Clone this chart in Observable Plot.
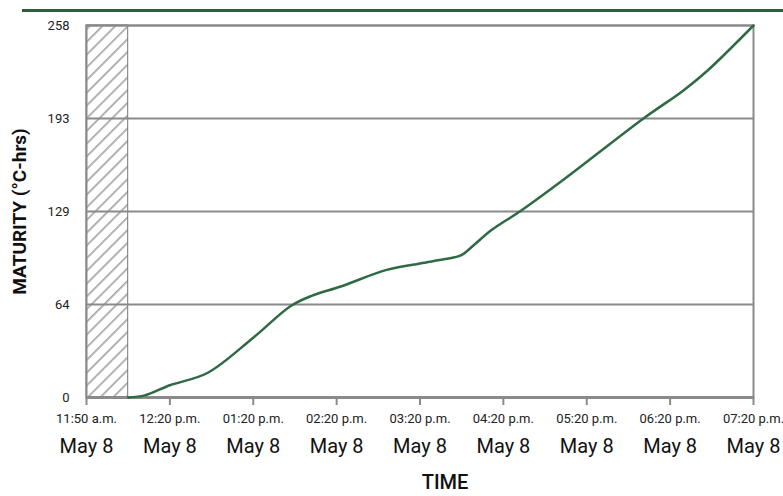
<!DOCTYPE html>
<html>
<head>
<meta charset="utf-8">
<script src="https://cdn.jsdelivr.net/npm/d3@7"></script>
<script src="https://cdn.jsdelivr.net/npm/@observablehq/plot@0.6"></script>
<style>
  html, body { margin: 0; padding: 0; background: #fff; }
  #wrap { position: relative; width: 783px; height: 496px; font-family: Roboto, sans-serif; }
  #topline { position: absolute; left: 22px; top: 9px; width: 761px; height: 3px; background: #2d5e3b; }
  #chart { position: absolute; left: 0; top: 0; }
</style>
</head>
<body>
<div id="wrap"><div id="topline"></div><div id="chart"></div></div>
<script>
// x positions in tick-interval units (0 = 11:50 a.m. tick, 8 = 07:20 p.m. tick)
const curveX = [0.5, 0.7, 1.0, 1.45, 2.0, 2.45, 2.7, 3.05, 3.6, 4.0, 4.3, 4.49, 4.64, 4.85, 5.21, 5.72, 6.68, 7.16, 7.45, 8.0];
const maturity = [0, 1.5, 8.5, 17, 41.5, 63.5, 70.5, 77, 88.5, 93, 96, 98.5, 105.4, 115.8, 129.5, 151, 193.5, 213, 226.8, 258];

const xTicks = [0, 1, 2, 3, 4, 5, 6, 7, 8];
const timeLabels = ["11:50 a.m.", "12:20 p.m.", "01:20 p.m.", "02:20 p.m.", "03:20 p.m.", "04:20 p.m.", "05:20 p.m.", "06:20 p.m.", "07:20 p.m."];
const dateLabels = ["May 8", "May 8", "May 8", "May 8", "May 8", "May 8", "May 8", "May 8", "May 8"];

const yTicks = [0, 64.5, 129, 193.5, 258];
const yLabels = ["0", "64", "129", "193", "258"];

const hatchRange = [0, 0.5];

const data = curveX.map((x, i) => ({x, y: maturity[i]}));
const gray = "#8a8a8a";

const chart = Plot.plot({
  width: 783,
  height: 496,
  marginTop: 25,
  marginLeft: 86,
  marginRight: 30,
  marginBottom: 99,
  style: {fontFamily: "Roboto, sans-serif", color: "#222", background: "transparent", overflow: "visible"},
  x: {domain: [0, 8]},
  y: {domain: [0, 258]},
  marks: [
    Plot.rect([hatchRange], {x1: d => d[0], x2: d => d[1], y1: 0, y2: 258, fill: "url(#hatch)", stroke: "#777", strokeWidth: 1}),
    Plot.gridY(yTicks, {stroke: gray, strokeOpacity: 1, strokeWidth: 2}),
    Plot.frame({stroke: gray, strokeWidth: 2}),
    Plot.ruleY([0], {stroke: gray, strokeWidth: 3}),
    Plot.axisY(yTicks, {tickSize: 0, tickPadding: 17, fontSize: 13, label: null, tickFormat: d => yLabels[yTicks.indexOf(d)]}),
    Plot.axisX(xTicks, {tickSize: 8, tickPadding: 8, fontSize: 13, label: null, stroke: gray, strokeWidth: 2, tickFormat: d => timeLabels[d]}),
    Plot.axisX(xTicks, {tickSize: 0, tickPadding: 41, fontSize: 20, label: null, fill: "#111", tickFormat: d => dateLabels[d]}),
    Plot.text(["TIME"], {frameAnchor: "bottom", dx: 25, dy: 77, fontSize: 20, fontWeight: 500, lineAnchor: "top", fill: "#111"}),
    Plot.text(["MATURITY (°C-hrs)"], {frameAnchor: "left", textAnchor: "middle", dx: -67, rotate: -90, fontSize: 19, fontWeight: "bold", fill: "#111"}),
    Plot.line(data, {x: "x", y: "y", curve: "catmull-rom", stroke: "#2e6a44", strokeWidth: 2.5})
  ]
});

const svg = d3.select(chart);
const defs = svg.insert("defs", ":first-child");
const pat = defs.append("pattern")
  .attr("id", "hatch")
  .attr("patternUnits", "userSpaceOnUse")
  .attr("width", 9).attr("height", 9)
  .attr("patternTransform", "rotate(45)");
pat.append("rect").attr("width", 9).attr("height", 9).attr("fill", "#fff");
pat.append("line").attr("x1", 0).attr("y1", 0).attr("x2", 0).attr("y2", 9)
  .attr("stroke", "#a8a8a8").attr("stroke-width", 3.5);

document.getElementById("chart").appendChild(chart);
</script>
</body>
</html>
